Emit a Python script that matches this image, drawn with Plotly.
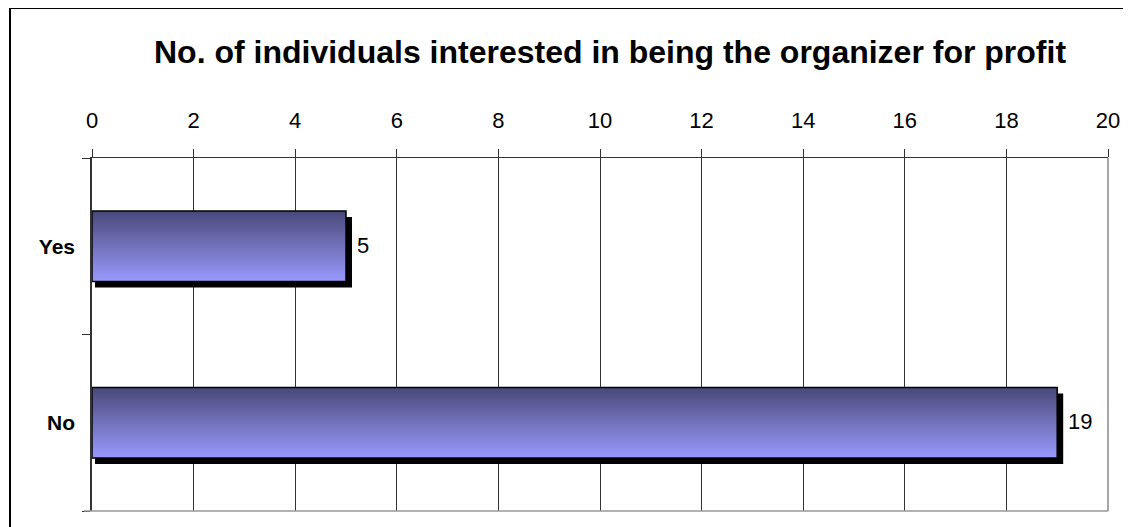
import plotly.graph_objects as go

# data
categories = ["No", "Yes"]
counts = [19, 5]
x_ticks = [0, 2, 4, 6, 8, 10, 12, 14, 16, 18, 20]

title = "No. of individuals interested in being the organizer for profit"

# the page body adds 8px on the top/left, so the figure is shifted by that
W, H = 1131 - 8, 527 - 8
ML, MR, MT, MB = 84, 23, 150, 16
plot_w = W - ML - MR
plot_h = H - MT - MB

bar_h = 0.4
# shadow offset in axis units (about 6px right, 6px down)
sdx = 6 / (plot_w / 20)
sdy = 6 / (plot_h / 2)

fig = go.Figure()

for i, (cat, v) in enumerate(zip(categories, counts)):
    y0, y1 = i - bar_h / 2, i + bar_h / 2
    # drop shadow
    fig.add_trace(go.Scatter(
        x=[sdx / 2, v + sdx, v + sdx, sdx / 2, sdx / 2],
        y=[y0 - sdy, y0 - sdy, y1 - sdy, y1 - sdy, y0 - sdy],
        fill="toself", fillcolor="black", mode="lines",
        line=dict(width=0, color="black"), hoverinfo="skip", showlegend=False,
    ))
    # gradient bar
    fig.add_trace(go.Scatter(
        x=[0, v, v, 0, 0],
        y=[y0, y0, y1, y1, y0],
        fill="toself", mode="lines",
        fillgradient=dict(type="vertical",
                          colorscale=[[0, "#9999ff"], [0.5, "#7272bb"], [1, "#48487a"]]),
        line=dict(width=1.5, color="black"),
        name=cat, showlegend=False,
    ))
    fig.add_annotation(x=v, y=i, text=str(v), showarrow=False,
                       xanchor="left", xshift=9, yshift=1,
                       font=dict(size=22, color="black"))

fig.update_xaxes(
    side="top", range=[0, 20], tickvals=x_ticks,
    showgrid=True, gridcolor="#333333", gridwidth=1,
    ticks="outside", ticklen=8, tickcolor="#333333",
    showline=True, linecolor="#333333", linewidth=1,
    tickfont=dict(size=22, color="black"), ticklabelstandoff=12,
    zeroline=False,
)
fig.update_yaxes(
    range=[-0.5, 1.5], tickvals=[0, 1],
    ticktext=["<b>" + c + "</b>" for c in categories],
    ticks="", showgrid=False, zeroline=False,
    showline=True, linecolor="#333333", linewidth=1.5,
    tickfont=dict(size=21, color="black"),
    minor=dict(tick0=0.5, dtick=1, ticks="outside", ticklen=8,
               tickcolor="#333333", showgrid=False),
    ticklabelstandoff=11,
)

# right and bottom plot-area border (grey)
fig.add_shape(type="line", xref="paper", yref="paper", x0=1, x1=1, y0=0, y1=1,
              line=dict(color="#888888", width=1.5))
fig.add_shape(type="line", xref="paper", yref="paper",
              x0=-8 / plot_w, x1=1, y0=0, y1=0,
              line=dict(color="#999999", width=1.5))

# outer chart border
fig.add_shape(type="rect", xref="paper", yref="paper",
              x0=(2 - ML) / plot_w, x1=1.2,
              y0=-0.3, y1=(H - MB) / plot_h,
              line=dict(color="black", width=2), layer="below")

fig.add_annotation(text="<b>" + title + "</b>", xref="paper", yref="paper",
                   x=(602 - ML) / plot_w, y=(H - MB - 44) / plot_h,
                   showarrow=False, xanchor="center", yanchor="middle",
                   font=dict(size=32, color="black"))

fig.update_layout(
    width=W, height=H,
    margin=dict(l=ML, r=MR, t=MT, b=MB),
    paper_bgcolor="white", plot_bgcolor="white",
    font=dict(family="Liberation Sans, Arial, sans-serif", color="black"),
    showlegend=False,
)

fig.write_html("out.html")
